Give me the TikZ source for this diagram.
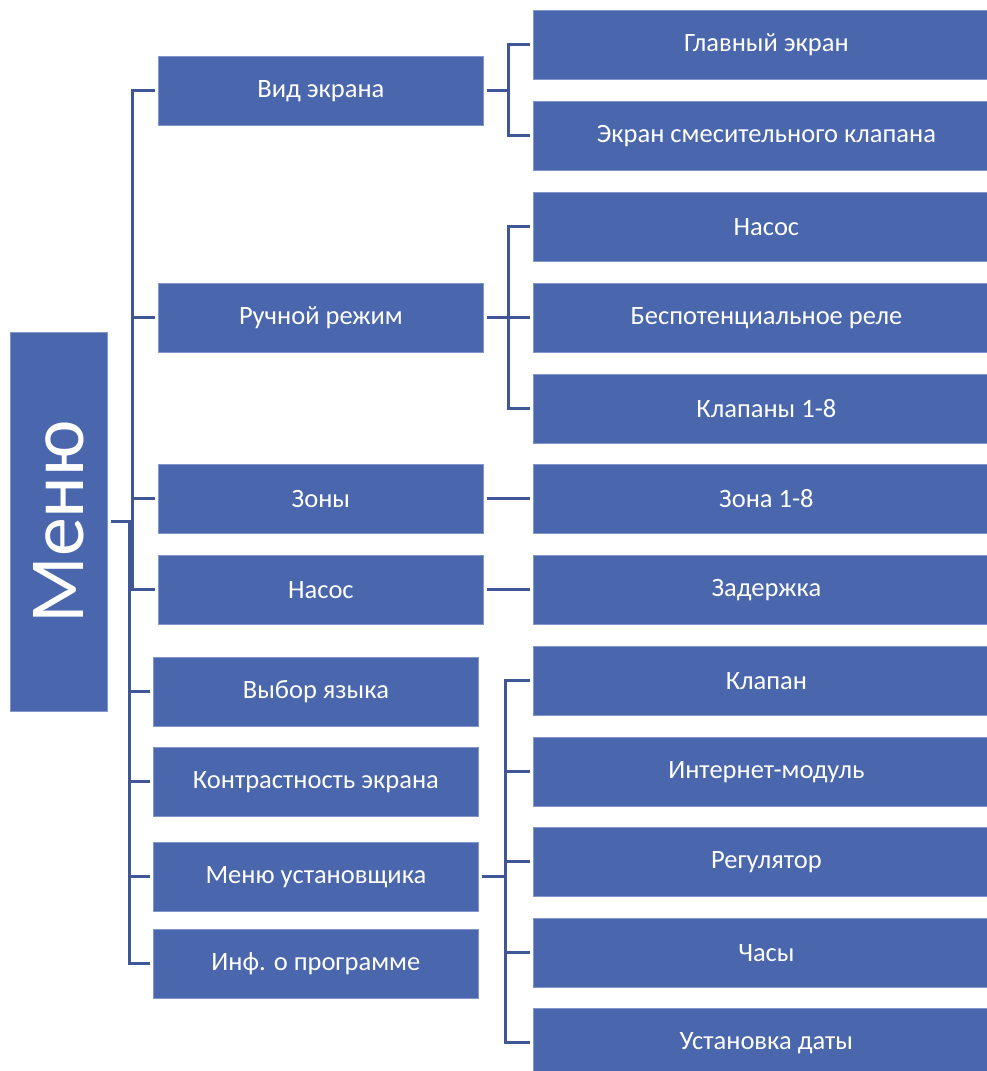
\documentclass[tikz,border=0pt]{standalone}
\usepackage{fontspec}
\setmainfont{Carlito}
\definecolor{boxblue}{HTML}{4A66AC}
\definecolor{edgeblue}{HTML}{8196C9}
\definecolor{lineblue}{HTML}{3F5697}
\begin{document}
\begin{tikzpicture}[x=1pt,y=-1pt,
  box/.style={fill=boxblue, draw=edgeblue, line width=0.8pt, text=white,
    font=\fontsize{26.5}{30}\selectfont, inner sep=0pt, anchor=north west, minimum height=69pt},
  lone/.style={box, minimum width=325pt},
  ltwo/.style={box, minimum width=466pt},
  conn/.style={draw=lineblue, line width=3pt}]
\useasboundingbox (0,0) rectangle (987,1071);
% root
\node[box, minimum width=97pt, minimum height=379pt] (menu) at (10,332) {};
\node[text=white, rotate=90, font=\fontsize{78}{84}\selectfont] (menut) at (menu.center) {Меню};
% level 1
\node[lone] (vid) at (158,56) {Вид экрана};
\node[lone] (ruch) at (158,283) {Ручной режим};
\node[lone] (zony) at (158,464) {Зоны};
\node[lone] (nas1) at (158,555) {Насос};
\node[lone] (lang) at (153,657) {Выбор языка};
\node[lone] (contr) at (153,747) {Контрастность экрана};
\node[lone] (inst) at (153,842) {Меню установщика};
\node[lone] (info) at (153,929) {Инф. о программе};
% level 2
\node[ltwo] (glav) at (533,10) {Главный экран};
\node[ltwo] (smes) at (533,101) {Экран смесительного клапана};
\node[ltwo] (nas2) at (533,192) {Насос};
\node[ltwo] (rele) at (533,283) {Беспотенциальное реле};
\node[ltwo] (klap8) at (533,374) {Клапаны 1-8};
\node[ltwo] (zona) at (533,464) {Зона 1-8};
\node[ltwo] (zad) at (533,555) {Задержка};
\node[ltwo] (klap) at (533,646) {Клапан};
\node[ltwo] (inet) at (533,737) {Интернет-модуль};
\node[ltwo] (reg) at (533,827) {Регулятор};
\node[ltwo] (chas) at (533,918) {Часы};
\node[ltwo] (data) at (533,1008) {Установка даты};
% trunk x positions
\coordinate (xa) at (132,0);
\coordinate (xb) at (129,0);
\coordinate (xc) at (508,0);
\coordinate (xd) at (505,0);
\coordinate (sa) at (menu.east -| xa);
\coordinate (sb) at (menu.east -| xb);
\coordinate (ja) at (vid.east -| xc);
\coordinate (jb) at (ruch.east -| xc);
\coordinate (jc) at (inst.east -| xd);
% root connectors
\draw[conn] ([xshift=3pt]menu.east) -- (sa);
\draw[conn] ([xshift=-3pt]vid.west) -| (sa);
\draw[conn] ([xshift=-3pt]nas1.west) -| (sa);
\draw[conn] ([xshift=-3pt]ruch.west) -- (ruch.west -| xa);
\draw[conn] ([xshift=-3pt]zony.west) -- (zony.west -| xa);
\draw[conn] ([xshift=-3pt]info.west) -| (sb);
\draw[conn] ([xshift=-3pt]lang.west) -- (lang.west -| xb);
\draw[conn] ([xshift=-3pt]contr.west) -- (contr.west -| xb);
\draw[conn] ([xshift=-3pt]inst.west) -- (inst.west -| xb);
% Вид экрана
\draw[conn] ([xshift=3pt]vid.east) -- (ja);
\draw[conn] ([xshift=-3pt]glav.west) -| (ja);
\draw[conn] ([xshift=-3pt]smes.west) -| (ja);
% Ручной режим
\draw[conn] ([xshift=3pt]ruch.east) -- ([xshift=-3pt]rele.west);
\draw[conn] ([xshift=-3pt]nas2.west) -| (jb);
\draw[conn] ([xshift=-3pt]klap8.west) -| (jb);
% Зоны, Насос
\draw[conn] ([xshift=3pt]zony.east) -- ([xshift=-3pt]zona.west);
\draw[conn] ([xshift=3pt]nas1.east) -- ([xshift=-3pt]zad.west);
% Меню установщика
\draw[conn] ([xshift=3pt]inst.east) -- (jc);
\draw[conn] ([xshift=-3pt]klap.west) -| (jc);
\draw[conn] ([xshift=-3pt]data.west) -| (jc);
\draw[conn] ([xshift=-3pt]inet.west) -- (inet.west -| xd);
\draw[conn] ([xshift=-3pt]reg.west) -- (reg.west -| xd);
\draw[conn] ([xshift=-3pt]chas.west) -- (chas.west -| xd);
\end{tikzpicture}
\end{document}
